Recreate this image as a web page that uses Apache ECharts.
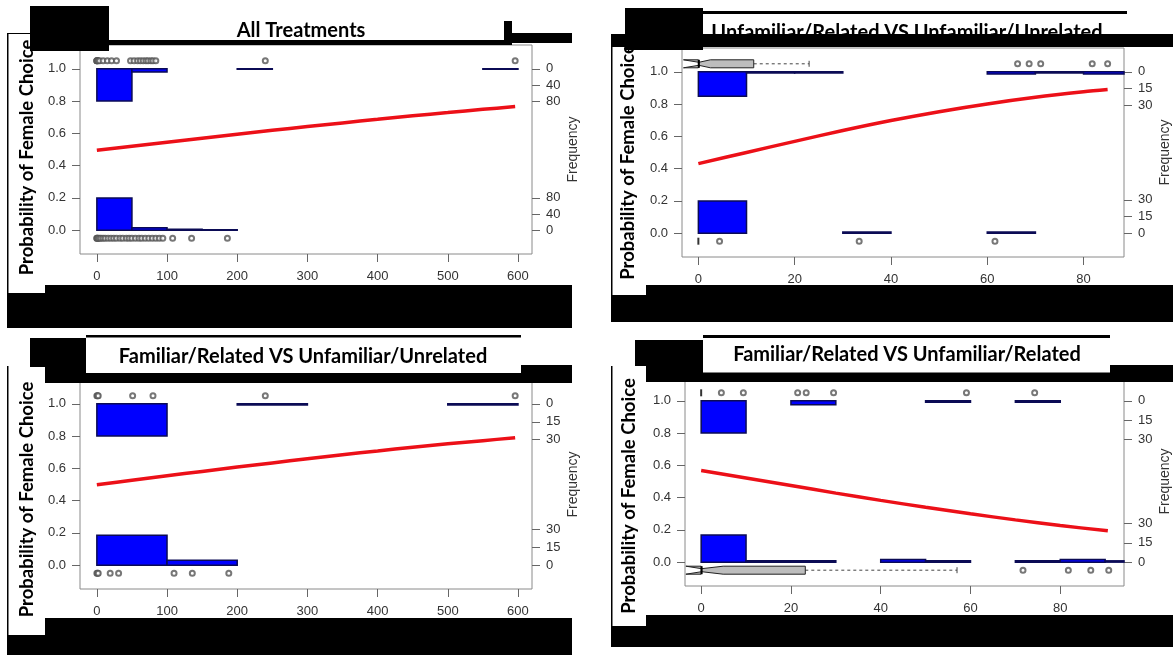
<!DOCTYPE html>
<html>
<head>
<meta charset="utf-8">
<script src="https://cdn.jsdelivr.net/npm/echarts@6/dist/echarts.min.js"></script>
<style>
  html, body { margin: 0; padding: 0; background: #fff; }
  #chart { width: 1173px; height: 655px; }
</style>
</head>
<body>
<div id="chart"></div>
<script>
// ---- text ----
var titles = ['All Treatments', 'Unfamiliar/Related VS Unfamiliar/Unrelated',
  'Familiar/Related VS Unfamiliar/Unrelated', 'Familiar/Related VS Unfamiliar/Related'];
var yTitle = 'Probability of Female Choice';
var freqTitle = 'Frequency';

// ---- ticks ----
var probTicks = [0, 0.2, 0.4, 0.6, 0.8, 1.0];
var xTicksWide = [0, 100, 200, 300, 400, 500, 600];
var xTicksNarrow = [0, 20, 40, 60, 80];
var freqTicks1 = [0, 40, 80];
var freqTicks = [0, 15, 30];
// count that is drawn at 0.2 probability units
var freqMax1 = 80, freqMax2 = 29, freqMax3 = 27, freqMax4 = 25;

// ---- panel 1 : All Treatments ----
var curveX1 = [0, 50, 100, 150, 200, 250, 300, 350, 400, 450, 500, 550, 596];
var curveY1 = [0.495, 0.52, 0.545, 0.57, 0.595, 0.619, 0.642, 0.665, 0.687, 0.709, 0.729, 0.749, 0.766];
var histTop1 = [[0, 50, 80], [50, 100, 8], [200, 250, 1], [550, 600, 1]];
var histBot1 = [[0, 50, 80], [50, 100, 6], [100, 150, 2], [150, 200, 1]];
var ptsTop1 = [0, 0, 0, 1, 2, 4, 9, 15, 21, 28, 48, 53, 58, 62, 66, 70, 73, 77, 80, 84, 240, 596];
var ptsBot1 = [0, 0, 1, 2, 4, 6, 9, 12, 16, 20, 24, 28, 33, 37, 42, 46, 50, 55, 60, 64, 69, 74, 79, 84, 89, 94, 108, 135, 186];

// ---- panel 2 : Unfamiliar/Related VS Unfamiliar/Unrelated ----
var curveX2 = [0, 10, 20, 30, 40, 50, 60, 70, 80, 85];
var curveY2 = [0.431, 0.5, 0.569, 0.636, 0.698, 0.753, 0.801, 0.842, 0.876, 0.89];
var histTop2 = [[0, 10, 22], [10, 20, 1], [20, 30, 1], [60, 70, 2], [70, 80, 1], [80, 90, 2]];
var histBot2 = [[0, 10, 29], [30, 40, 1], [60, 70, 1]];
var ptsTop2 = [66.3, 68.7, 71.1, 81.8, 85.0];
var ptsBot2 = [4.4, 33.4, 61.6];
var markBot2 = [0];
// q1, notch low, median, notch high, q3, upper whisker
var boxTop2 = [0, -3.1, 0.1, 2.5, 11.5, 23.0];

// ---- panel 3 : Familiar/Related VS Unfamiliar/Unrelated ----
var curveX3 = [0, 50, 100, 150, 200, 250, 300, 350, 400, 450, 500, 550, 596];
var curveY3 = [0.498, 0.526, 0.554, 0.581, 0.608, 0.634, 0.66, 0.685, 0.708, 0.731, 0.752, 0.772, 0.79];
var histTop3 = [[0, 100, 27], [200, 300, 1], [500, 600, 1]];
var histBot3 = [[0, 100, 25], [100, 200, 4]];
var ptsTop3 = [0, 1, 2, 51, 80, 240, 596];
var ptsBot3 = [0, 1, 2, 19, 31, 110, 136, 188];

// ---- panel 4 : Familiar/Related VS Unfamiliar/Related ----
var curveX4 = [0, 10, 20, 30, 40, 50, 60, 70, 80, 90.6];
var curveY4 = [0.568, 0.522, 0.475, 0.428, 0.383, 0.34, 0.3, 0.262, 0.227, 0.194];
var histTop4 = [[0, 10, 25], [20, 30, 3], [50, 60, 1], [70, 80, 1]];
var histBot4 = [[0, 10, 21], [10, 20, 1], [20, 30, 1], [40, 50, 2], [50, 60, 1], [70, 80, 1], [80, 90, 2], [90, 100, 1]];
var ptsTop4 = [4.5, 9.4, 21.5, 23.4, 29.5, 59.1, 74.3];
var markTop4 = [0];
var ptsBot4 = [71.7, 81.8, 86.8, 90.8];
var boxBot4 = [0, -3.4, 0.1, 4.9, 23.2, 57.0];

var TOP_ROW = 1.05, BOT_ROW = -0.05;

var panels = [
  { box: { left: 80, top: 45, width: 452, height: 209 }, xr: [-24, 620], xTicks: xTicksWide, fMax: freqMax1, fTicks: freqTicks1,
    cx: curveX1, cy: curveY1, hTop: histTop1, hBot: histBot1, pTop: ptsTop1, pBot: ptsBot1 },
  { box: { left: 682, top: 48, width: 445, height: 209 }, xr: [-3.4, 88.4], xTicks: xTicksNarrow, fMax: freqMax2, fTicks: freqTicks,
    cx: curveX2, cy: curveY2, hTop: histTop2, hBot: histBot2, pTop: ptsTop2, pBot: ptsBot2, mBot: markBot2, bTop: boxTop2 },
  { box: { left: 80, top: 380, width: 452, height: 209 }, xr: [-24, 620], xTicks: xTicksWide, fMax: freqMax3, fTicks: freqTicks,
    cx: curveX3, cy: curveY3, hTop: histTop3, hBot: histBot3, pTop: ptsTop3, pBot: ptsBot3 },
  { box: { left: 685, top: 377, width: 443, height: 209 }, xr: [-3.6, 94.2], xTicks: xTicksNarrow, fMax: freqMax4, fTicks: freqTicks,
    cx: curveX4, cy: curveY4, hTop: histTop4, hBot: histBot4, pTop: ptsTop4, pBot: ptsBot4, mTop: markTop4, bBot: boxBot4 }
];

var labelStyle = { color: '#333', fontSize: 13, fontFamily: 'Liberation Sans' };

function renderHist(params, api) {
  var a = api.coord([api.value(0), api.value(2)]);
  var b = api.coord([api.value(1), api.value(3)]);
  var cs = params.coordSys;
  var shape = echarts.graphic.clipRectByRect(
    { x: a[0], y: Math.min(a[1], b[1]), width: b[0] - a[0], height: Math.abs(b[1] - a[1]) },
    { x: cs.x, y: cs.y, width: cs.width, height: cs.height });
  return shape && { type: 'rect', shape: shape, style: { fill: '#0000ff', stroke: '#0b0b55', lineWidth: 1.5 } };
}

function renderBox(params, api) {
  var yc = api.value(6);
  function P(x, dy) { var c = api.coord([x, yc]); return [c[0], c[1] + dy]; }
  var h = 4, n = 1.5;
  var q1 = api.value(0), nlo = api.value(1), med = api.value(2), nhi = api.value(3), q3 = api.value(4), wh = api.value(5);
  var poly = [P(q1, -h), P(nlo, -h), P(med, -n), P(nhi, -h), P(q3, -h), P(q3, h), P(nhi, h), P(med, n), P(nlo, h), P(q1, h)];
  var w0 = P(q3, 0), w1 = P(wh, 0), m = P(med, 0);
  return { type: 'group', children: [
    { type: 'line', shape: { x1: w0[0], y1: w0[1], x2: w1[0], y2: w1[1] }, style: { stroke: '#444', lineWidth: 1, lineDash: [3, 3] } },
    { type: 'line', shape: { x1: w1[0], y1: w1[1] - 3, x2: w1[0], y2: w1[1] + 3 }, style: { stroke: '#444', lineWidth: 1 } },
    { type: 'polygon', shape: { points: poly }, style: { fill: '#bdbdbd', stroke: '#222', lineWidth: 1 } },
    { type: 'line', shape: { x1: m[0], y1: m[1] - h, x2: m[0], y2: m[1] + h }, style: { stroke: '#000', lineWidth: 2 } }
  ] };
}

var grids = [], xAxes = [], yAxes = [], series = [];
panels.forEach(function (p, i) {
  grids.push(Object.assign({ show: true, borderColor: '#8a8a8a', borderWidth: 1, backgroundColor: 'transparent' }, p.box));
  xAxes.push({
    type: 'value', gridIndex: i, min: p.xr[0], max: p.xr[1], position: 'bottom',
    axisLine: { show: false, onZero: false }, splitLine: { show: false },
    axisTick: { show: true, length: 8, customValues: p.xTicks, lineStyle: { color: '#666' } },
    axisLabel: Object.assign({ customValues: p.xTicks, margin: 16 }, labelStyle)
  });
  yAxes.push({
    type: 'value', gridIndex: i, position: 'left', min: -0.148, max: 1.148,
    axisLine: { show: false, onZero: false }, splitLine: { show: false },
    axisTick: { show: true, length: 8, customValues: probTicks, lineStyle: { color: '#666' } },
    axisLabel: Object.assign({ customValues: probTicks, margin: 14, formatter: function (v) { return v.toFixed(1); } }, labelStyle)
  });
  var fpos = p.fTicks.map(function (f) { return 1 - f / p.fMax * 0.2; })
    .concat(p.fTicks.map(function (f) { return f / p.fMax * 0.2; }));
  yAxes.push({
    type: 'value', gridIndex: i, position: 'right', min: -0.148, max: 1.148,
    name: freqTitle, nameLocation: 'middle', nameGap: 34, nameRotate: 90,
    nameTextStyle: { color: '#333', fontSize: 14, fontFamily: 'Liberation Sans' },
    axisLine: { show: false, onZero: false }, splitLine: { show: false },
    axisTick: { show: true, length: 8, customValues: fpos, lineStyle: { color: '#666' } },
    axisLabel: Object.assign({ customValues: fpos, margin: 14, formatter: function (v) {
      return String(Math.round((v > 0.5 ? 1 - v : v) / 0.2 * p.fMax));
    } }, labelStyle)
  });

  var hist = p.hTop.map(function (b) { return [b[0], b[1], 1, 1 - b[2] / p.fMax * 0.2]; })
    .concat(p.hBot.map(function (b) { return [b[0], b[1], 0, b[2] / p.fMax * 0.2]; }));
  series.push({ type: 'custom', xAxisIndex: i, yAxisIndex: i * 2, renderItem: renderHist,
    encode: { x: [0, 1], y: [2, 3] }, data: hist, z: 2, silent: true });

  var pts = p.pTop.map(function (x) { return [x, TOP_ROW]; }).concat(p.pBot.map(function (x) { return [x, BOT_ROW]; }));
  series.push({ type: 'scatter', xAxisIndex: i, yAxisIndex: i * 2, data: pts, symbol: 'emptyCircle', symbolSize: 5,
    itemStyle: { color: '#555', borderWidth: 1 }, z: 4, silent: true });

  var marks = (p.mTop || []).map(function (x) { return [x, TOP_ROW]; }).concat((p.mBot || []).map(function (x) { return [x, BOT_ROW]; }));
  if (marks.length) {
    series.push({ type: 'scatter', xAxisIndex: i, yAxisIndex: i * 2, data: marks, symbol: 'rect', symbolSize: [2, 7],
      itemStyle: { color: '#000' }, z: 4, silent: true });
  }

  var boxes = [];
  if (p.bTop) boxes.push(p.bTop.concat([TOP_ROW]));
  if (p.bBot) boxes.push(p.bBot.concat([BOT_ROW]));
  if (boxes.length) {
    series.push({ type: 'custom', xAxisIndex: i, yAxisIndex: i * 2, renderItem: renderBox,
      encode: { x: [0, 4], y: 6 }, data: boxes, z: 3, silent: true });
  }

  series.push({ type: 'line', xAxisIndex: i, yAxisIndex: i * 2, showSymbol: false, smooth: 0.3,
    data: p.cx.map(function (x, k) { return [x, p.cy[k]]; }),
    lineStyle: { color: '#ec1018', width: 3.5 }, z: 5, silent: true });
});

// ---- overlay: titles, y titles, black masks ----
function txt(s, x, y, size, rot) {
  return { type: 'text', x: x, y: y, rotation: rot || 0, z: 100,
    style: { text: s, x: 0, y: 0, align: 'center', verticalAlign: 'middle', textAlign: 'center', textVerticalAlign: 'middle',
      font: 'bold ' + size + 'px Lato', fill: '#000' } };
}
function blk(x, y, w, h, color) {
  return { type: 'rect', z: 102, shape: { x: x, y: y, width: w, height: h }, style: { fill: color || '#000' } };
}
var R = Math.PI / 2;
var elements = [
  txt(titles[0], 301, 31, 20), txt(titles[1], 907, 33, 20), txt(titles[2], 303, 357, 20), txt(titles[3], 907, 355, 20),
  txt(yTitle, 27, 157.5, 18.5, R), txt(yTitle, 628, 162, 18.5, R), txt(yTitle, 27, 499.5, 18.5, R), txt(yTitle, 629, 496, 18.5, R),
  blk(0, 0, 30, 33, '#fff'),
  // panel 1
  blk(30, 6, 79, 45), blk(109, 40, 395, 5), blk(504, 21, 8, 24), blk(511, 33, 61, 10),
  blk(45, 285, 527, 43), blk(7, 293, 38, 35), blk(7, 33, 1.5, 260), blk(7, 33, 23, 1),
  // panel 2
  blk(625, 8, 78, 42), blk(703, 11, 424, 3), blk(612, 34, 561, 13),
  blk(646, 285, 527, 37), blk(611, 295, 35, 27), blk(611, 34, 1.5, 261),
  // panel 3
  blk(30, 338, 56, 29), blk(45, 366, 41, 17), blk(86, 335, 435, 2.5), blk(86, 373, 435, 10), blk(521, 365, 51, 18),
  blk(45, 618, 527, 37), blk(7, 635, 38, 20), blk(7, 366, 1.5, 269),
  // panel 4
  blk(635, 340, 68, 26), blk(646, 366, 57, 16), blk(703, 335, 407, 3), blk(703, 372.5, 407, 9.5), blk(1110, 365, 63, 17),
  blk(646, 615, 527, 32), blk(611, 626, 35, 21), blk(611, 366, 1.5, 260)
];

var chart = echarts.init(document.getElementById('chart'));
chart.setOption({
  animation: false,
  backgroundColor: '#fff',
  textStyle: { fontFamily: 'Liberation Sans' },
  grid: grids,
  xAxis: xAxes,
  yAxis: yAxes,
  series: series,
  graphic: { elements: elements }
});
</script>
</body>
</html>
